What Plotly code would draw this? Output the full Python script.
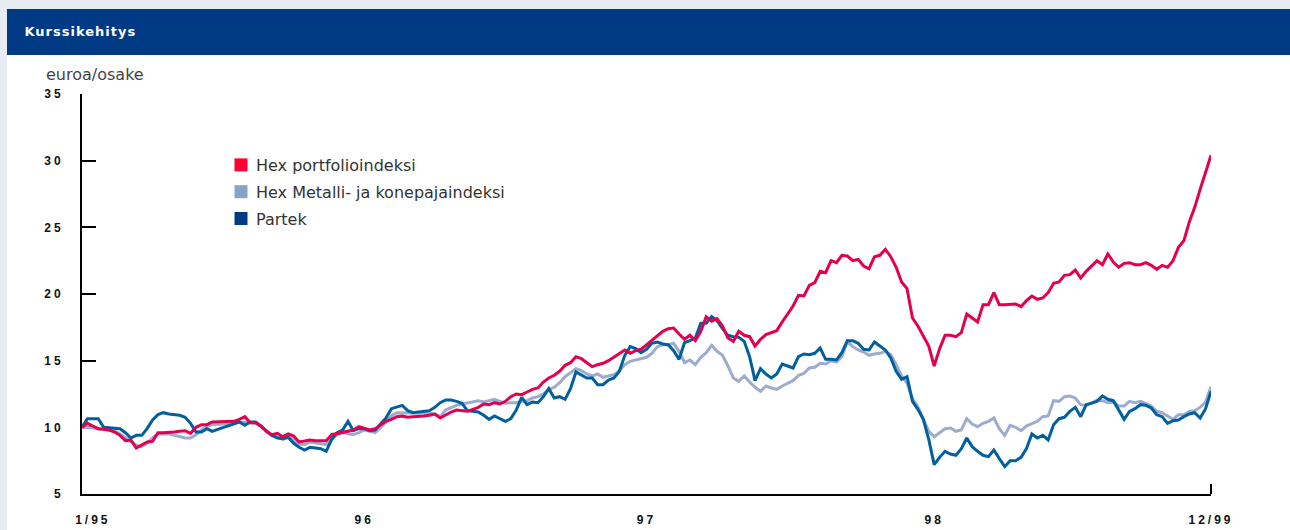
import plotly.graph_objects as go

# ---- data (weekly observations, euro per share) ----
x_labels = ["1/95", "96", "97", "98", "12/99"]
x_label_weeks = [2, 52, 104, 157, 208]
y_ticks = [5, 10, 15, 20, 25, 30, 35]

hex_portfolio = [
    10.0, 10.3, 10.1, 9.9, 9.85, 9.8, 9.65, 9.4, 9.0, 9.05, 8.45, 8.7, 8.9, 8.95, 9.6, 9.6, 9.6, 9.65, 9.7, 9.75,
    9.55, 10.0, 10.2, 10.2, 10.4, 10.4, 10.4, 10.4, 10.45, 10.6, 10.8, 10.35, 10.35, 10.1, 9.7, 9.45, 9.55, 9.3, 9.5, 9.35,
    8.9, 8.97, 9.05, 9.0, 9.0, 9.0, 9.45, 9.55, 9.65, 9.7, 9.8, 10.05, 9.95, 9.8, 9.9, 10.15, 10.45, 10.6, 10.8, 10.85,
    10.75, 10.8, 10.8, 10.85, 10.9, 11.0, 10.7, 10.95, 11.15, 11.3, 11.25, 11.2, 11.35, 11.5, 11.75, 11.7, 11.85, 11.75, 11.95, 12.3,
    12.5, 12.45, 12.65, 12.85, 12.95, 13.4, 13.7, 13.9, 14.2, 14.65, 14.85, 15.3, 15.15, 14.85, 14.55, 14.7, 14.8, 15.0, 15.25, 15.5,
    15.8, 15.55, 15.75, 15.85, 16.2, 16.55, 16.85, 17.2, 17.4, 17.45, 17.0, 16.6, 16.9, 16.5, 17.2, 18.3, 17.95, 18.15, 17.6, 16.7,
    16.45, 17.2, 16.9, 16.8, 16.1, 16.6, 16.95, 17.1, 17.25, 17.9, 18.5, 19.1, 19.9, 19.85, 20.65, 20.85, 21.7, 21.6, 22.5, 22.35,
    22.9, 22.85, 22.5, 22.6, 22.1, 21.9, 22.8, 22.9, 23.35, 22.8, 22.0, 20.9, 20.4, 18.2, 17.6, 16.8, 16.1, 14.6, 15.9, 16.9,
    16.9, 16.8, 17.1, 18.5, 18.2, 17.9, 19.2, 19.2, 20.1, 19.2, 19.2, 19.25, 19.25, 19.05, 19.5, 19.85, 19.6, 19.7, 20.1, 20.8,
    20.9, 21.4, 21.45, 21.8, 21.2, 21.7, 22.1, 22.5, 22.2, 23.0, 22.4, 22.0, 22.3, 22.35, 22.2, 22.2, 22.35, 22.15, 21.85, 22.15,
    22.0, 22.5, 23.5, 24.0, 25.4, 26.5, 27.85, 29.1, 30.4,
]

hex_metalli = [
    10.0, 10.0, 9.95, 9.9, 9.85, 9.8, 9.75, 9.5, 9.2, 8.95, 8.65, 8.55, 8.8, 9.2, 9.5, 9.5, 9.5, 9.4, 9.3, 9.2,
    9.2, 9.45, 9.8, 10.05, 10.2, 10.2, 10.25, 10.35, 10.45, 10.4, 10.4, 10.35, 10.3, 10.05, 9.65, 9.35, 9.3, 9.1, 9.25, 9.1,
    8.75, 8.7, 8.9, 8.85, 8.8, 8.7, 9.1, 9.45, 9.6, 9.55, 9.45, 9.6, 9.8, 9.7, 9.6, 9.95, 10.4, 10.85, 11.1, 11.1,
    11.1, 11.05, 11.05, 11.1, 11.05, 11.0, 10.8, 11.3, 11.5, 11.65, 11.75, 11.85, 11.9, 12.0, 11.9, 12.0, 12.1, 11.95, 11.8, 11.85,
    11.85, 11.95, 12.0, 12.2, 12.3, 12.5, 12.85, 13.0, 13.35, 13.8, 14.1, 14.4, 14.25, 14.0, 13.85, 14.0, 13.75, 13.85, 13.95, 14.25,
    14.7, 14.95, 15.05, 15.1, 15.25, 15.55, 16.05, 16.2, 16.2, 16.3, 15.7, 14.85, 15.05, 14.7, 15.25, 15.6, 16.15, 15.7, 15.4, 14.6,
    13.7, 13.45, 13.85, 13.4, 13.0, 12.7, 13.1, 12.95, 12.85, 13.1, 13.3, 13.5, 13.9, 14.05, 14.45, 14.5, 14.8, 14.75, 15.0, 14.9,
    15.3, 16.45, 16.05, 15.8, 15.65, 15.4, 15.5, 15.55, 15.7, 15.45, 14.7, 13.85, 13.3, 12.15, 11.55, 10.65, 9.7, 9.3, 9.6, 9.9,
    9.95, 9.7, 9.8, 10.65, 10.25, 10.05, 10.3, 10.45, 10.7, 9.9, 9.4, 10.15, 10.0, 9.75, 10.1, 10.3, 10.45, 10.8, 10.85, 12.0,
    11.95, 12.3, 12.35, 12.2, 11.7, 11.65, 11.8, 12.05, 12.0, 11.85, 11.9, 11.6, 11.6, 11.95, 11.85, 11.95, 11.8, 11.6, 11.2, 11.1,
    10.85, 10.6, 10.95, 10.95, 11.2, 11.25, 11.5, 11.9, 13.05,
]

partek = [
    10.0, 10.65, 10.65, 10.65, 10.0, 9.95, 9.95, 9.9, 9.6, 9.2, 9.4, 9.4, 9.9, 10.55, 10.95, 11.1, 11.0, 10.95, 10.9, 10.75,
    10.3, 9.65, 9.65, 9.9, 9.7, 9.85, 10.0, 10.15, 10.3, 10.4, 10.15, 10.4, 10.4, 10.05, 9.7, 9.4, 9.2, 9.15, 9.25, 8.8,
    8.5, 8.3, 8.5, 8.45, 8.4, 8.2, 9.1, 9.6, 9.8, 10.45, 9.75, 9.9, 9.9, 9.75, 9.8, 10.25, 10.7, 11.4, 11.55, 11.65,
    11.25, 11.1, 11.15, 11.2, 11.25, 11.5, 11.85, 12.05, 12.05, 11.95, 11.8, 11.25, 11.2, 11.15, 10.9, 10.6, 10.85, 10.65, 10.45, 10.65,
    11.3, 12.25, 11.7, 11.9, 11.85, 12.3, 12.9, 12.2, 12.3, 12.1, 12.9, 14.15, 13.95, 13.7, 13.7, 13.2, 13.2, 13.55, 13.7, 14.2,
    15.4, 16.05, 15.9, 15.6, 15.85, 16.3, 16.4, 16.25, 16.2, 15.75, 15.1, 16.35, 16.5, 16.7, 17.8, 17.8, 18.3, 18.0, 17.4, 16.9,
    16.8, 16.75, 16.45, 15.3, 13.5, 14.4, 14.0, 13.7, 14.0, 14.75, 14.6, 14.45, 15.3, 15.5, 15.45, 15.55, 15.95, 15.1, 15.1, 15.05,
    15.6, 16.5, 16.5, 16.3, 15.85, 15.8, 16.4, 16.1, 15.8, 15.2, 14.2, 13.6, 13.8, 11.95, 11.35, 10.6, 9.1, 7.2, 7.75, 8.2,
    8.0, 7.9, 8.4, 9.2, 8.55, 8.2, 7.9, 7.8, 8.3, 7.65, 7.05, 7.5, 7.5, 7.75, 8.4, 9.5, 9.2, 9.4, 9.05, 10.2,
    10.65, 10.75, 11.2, 11.5, 10.8, 11.7, 11.8, 11.95, 12.35, 12.1, 12.0, 11.25, 10.6, 11.2, 11.4, 11.7, 11.65, 11.45, 10.95, 10.8,
    10.3, 10.5, 10.55, 10.8, 11.0, 11.1, 10.7, 11.4, 12.7,
]

weeks = list(range(len(hex_portfolio)))

series_names = ["Hex portfolioindeksi", "Hex Metalli- ja konepajaindeksi", "Partek"]
line_colors = {"Hex portfolioindeksi": "#E2004F",
               "Hex Metalli- ja konepajaindeksi": "#9CABCF",
               "Partek": "#00609F"}
legend_colors = {"Hex portfolioindeksi": "#FF0033",
                 "Hex Metalli- ja konepajaindeksi": "#8AA1C8",
                 "Partek": "#003C85"}
series_values = {"Hex portfolioindeksi": hex_portfolio,
                 "Hex Metalli- ja konepajaindeksi": hex_metalli,
                 "Partek": partek}

fig = go.Figure()

# draw order: metalli (bottom), partek, portfolio (top)
for name in ["Hex Metalli- ja konepajaindeksi", "Partek", "Hex portfolioindeksi"]:
    fig.add_trace(go.Scatter(x=weeks, y=series_values[name], mode="lines", name=name,
                             line=dict(color=line_colors[name], width=3),
                             showlegend=False, hoverinfo="skip"))

# legend entries (square swatches)
for i, name in enumerate(series_names):
    fig.add_trace(go.Scatter(x=[None], y=[None], mode="markers", name=name,
                             marker=dict(symbol="square", size=13, color=legend_colors[name]),
                             legendgroup=f"g{i}", showlegend=True))

W, H = 1290, 530
L, R, T, B = 82, 79, 94, 36
pw, ph = W - L - R, H - T - B


def px(x):
    return (x - L) / pw


def py(y):
    return (H - B - y) / ph


shapes = [
    # white panel
    dict(type="rect", xref="paper", yref="paper", x0=px(7), x1=px(1295), y0=py(535), y1=py(55),
         fillcolor="white", line=dict(width=0), layer="below"),
    # title bar
    dict(type="rect", xref="paper", yref="paper", x0=px(7), x1=px(1295), y0=py(55), y1=py(9),
         fillcolor="#003A84", line=dict(width=0), layer="below"),
    # end tick of x axis
    dict(type="line", xref="paper", yref="paper", x0=1, x1=1, y0=0, y1=py(484),
         line=dict(color="black", width=2)),
]

annotations = [
    dict(text="<b>Kurssikehitys</b>", xref="paper", yref="paper", x=px(29), y=py(32),
         xanchor="left", yanchor="middle", showarrow=False,
         font=dict(family="DejaVu Sans", size=13, color="white")),
    dict(text="euroa/osake", xref="paper", yref="paper", x=px(44), y=py(75),
         xanchor="left", yanchor="middle", showarrow=False,
         font=dict(family="DejaVu Sans", size=16, color="#444444")),
]

fig.update_layout(
    width=W, height=H,
    margin=dict(l=L, r=R, t=T, b=B, pad=0, autoexpand=False),
    paper_bgcolor="#E7EBF4",
    plot_bgcolor="white",
    shapes=shapes,
    annotations=annotations,
    showlegend=True,
    legend=dict(x=px(221), y=py(148), xanchor="left", yanchor="top",
                bgcolor="rgba(0,0,0,0)", tracegroupgap=3, traceorder="grouped",
                itemwidth=30,
                font=dict(family="DejaVu Sans", size=16, color="#333333"),
                itemclick=False, itemdoubleclick=False),
    xaxis=dict(range=[0, 208], showgrid=False, zeroline=False, automargin=False,
               showline=True, linecolor="black", linewidth=2,
               tickmode="array", tickvals=x_label_weeks, ticktext=x_labels,
               ticks="", ticklabelstandoff=14,
               tickfont=dict(family="Liberation Sans", size=12, color="#111111"),
               fixedrange=True),
    yaxis=dict(range=[5, 35], showgrid=False, zeroline=False, automargin=False,
               showline=True, linecolor="black", linewidth=2,
               tickmode="array", tickvals=y_ticks, ticktext=[str(v) for v in y_ticks],
               ticks="inside", ticklen=14, tickwidth=1.5, tickcolor="black",
               ticklabelstandoff=14, layer="below traces",
               tickfont=dict(family="Liberation Sans", size=12, color="#111111"),
               fixedrange=True),
)

post = """
(function(){
  document.body.style.margin='0';
  document.body.style.padding='0';
  document.documentElement.style.overflow='hidden';
  function ls(){
    document.querySelectorAll('.xtick text, .ytick text').forEach(function(e){
      e.style.letterSpacing='3px'; e.style.fontWeight='bold';
    });
    document.querySelectorAll('.annotation-text').forEach(function(e){
      if (e.textContent.indexOf('Kurssikehitys') >= 0) { e.style.letterSpacing='1px'; }
    });
    document.querySelectorAll('.legend .legendtext').forEach(function(e){
      if (!e.dataset.shifted) {
        var x = parseFloat(e.getAttribute('x') || '0');
        e.setAttribute('x', x - 5);
        e.dataset.shifted = '1';
      }
    });
  }
  ls();
  var gd=document.getElementById('{plot_id}');
  if (gd && gd.on) { gd.on('plotly_afterplot', ls); }
})();
"""

fig.write_html("out.html", post_script=post, config={"displayModeBar": False})
